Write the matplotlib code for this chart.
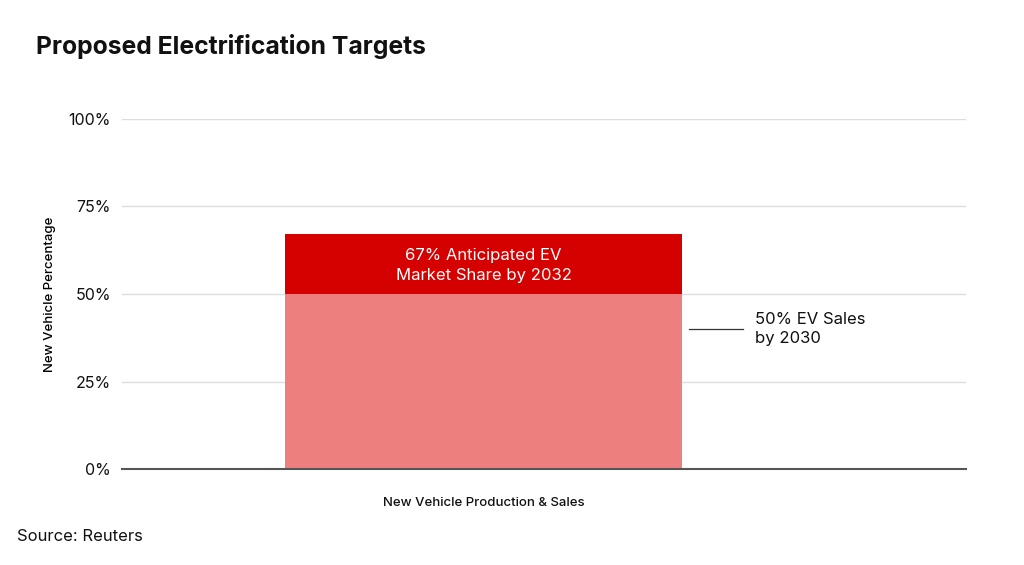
import matplotlib.pyplot as plt

# datos
categoria = "New Vehicle Production & Sales"
base_ventas = 50        # 50% EV sales by 2030
total_anticipado = 67   # 67% anticipated EV market share by 2032
yticks = [0, 25, 50, 75, 100]
ytick_labels = ["0%", "25%", "50%", "75%", "100%"]

plt.rcParams['font.family'] = ['Inter', 'DejaVu Sans']

fig = plt.figure(figsize=(10.24, 5.65), dpi=100)
ax = fig.add_axes([0.1191, 0.1699, 0.8243, 0.6195])

ax.bar(0, base_ventas, width=1, color='#ee7f7f', zorder=2)
ax.bar(0, total_anticipado - base_ventas, bottom=base_ventas, width=1,
       color='#d50000', zorder=2)

ax.set_xlim(-0.911, 1.215)
ax.set_ylim(0, 100)
ax.set_yticks(yticks)
ax.set_yticklabels(ytick_labels, fontsize=11.5, color='#111111')
# etiqueta de la categoria centrada bajo la barra
ax.set_xticks([0])
ax.set_xticklabels([categoria], fontsize=9.5, fontweight='medium', color='#111111')
ax.tick_params(axis='x', length=0, pad=20)
ax.grid(axis='y', color='#dddddd', lw=1, zorder=0)
ax.tick_params(axis='y', length=0, pad=8)
for s in ['top', 'right', 'left']:
    ax.spines[s].set_visible(False)
ax.spines['bottom'].set_color('#555555')
ax.spines['bottom'].set_linewidth(1.5)
ax.spines['bottom'].set_zorder(3)

ax.set_ylabel("New Vehicle Percentage", fontsize=9.5, fontweight='medium', labelpad=9)

# texto dentro de la barra
ax.text(0, 58.1,
        f"{total_anticipado}% Anticipated EV\nMarket Share by 2032",
        ha='center', va='center', color='white', fontsize=12, linespacing=1.45)

# anotacion lateral
ax.plot([0.518, 0.654], [40, 40], color='#333333', lw=0.9, clip_on=False)
ax.text(0.684, 40, f"{base_ventas}% EV Sales\nby 2030", ha='left', va='center',
        fontsize=12, color='#111111', linespacing=1.3)

fig.text(0.035, 0.918, "Proposed Electrification Targets", fontsize=17.8,
         fontweight='bold', ha='left', va='center', color='#111111')
fig.text(0.017, 0.051, "Source: Reuters", fontsize=12, ha='left', va='center',
         color='#111111')

fig.savefig('out.png', dpi=100)
